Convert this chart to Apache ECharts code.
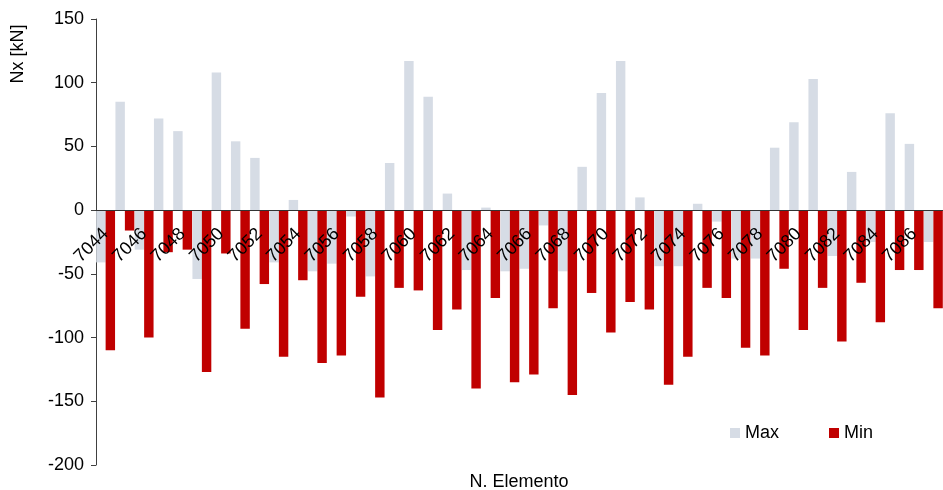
<!DOCTYPE html>
<html>
<head>
<meta charset="utf-8">
<script src="https://cdn.jsdelivr.net/npm/echarts@6/dist/echarts.min.js"></script>
<style>
html,body{margin:0;padding:0;background:#fff;}
#chart{width:943px;height:490px;}
</style>
</head>
<body>
<div id="chart"></div>
<script>
var categories = [];
for (var c = 7044; c <= 7087; c++) categories.push(String(c));

var maxValues = [-41, 85, -31, 72, 62, -54, 108, 54, 41, -41,
                 8, -48, -42, -5, -52, 37, 117, 89, 13, -47,
                 2, -48, -46, -12, -48, 34, 92, 117, 10, -44,
                 -44, 5, -9, -38, -38, 49, 69, 103, -36, 30,
                 -25, 76, 52, -25];

var minValues = [-110, -16, -100, -33, -31, -127, -34, -93, -58, -115,
                 -55, -120, -114, -68, -147, -61, -63, -94, -78, -140,
                 -69, -135, -129, -77, -145, -65, -96, -72, -78, -137,
                 -115, -61, -69, -108, -114, -46, -94, -61, -103, -57,
                 -88, -47, -47, -77];

var yTicks = { min: -200, max: 150, interval: 50 };

var FONT = 'Arial, "Liberation Sans", sans-serif';
var chart = echarts.init(document.getElementById('chart'), null, { renderer: 'canvas' });

var gridTop = 19, gridBottom = 25, H = 490;
var plotH = H - gridTop - gridBottom;
var zeroOffset = plotH * (0 - yTicks.min) / (yTicks.max - yTicks.min);

chart.setOption({
  animation: false,
  backgroundColor: '#ffffff',
  grid: { left: 96, right: 0, top: gridTop, bottom: gridBottom, containLabel: false },
  legend: {
    data: ['Max', 'Min'],
    left: 725, top: 419,
    icon: 'rect', itemWidth: 10, itemHeight: 10, itemGap: 50,
    textStyle: { fontSize: 18, fontFamily: FONT, color: '#000' }
  },
  xAxis: {
    type: 'category',
    data: categories,
    z: 10,
    offset: -zeroOffset,
    axisLine: { show: true, onZero: false, lineStyle: { color: '#333', width: 1 } },
    axisTick: { show: false },
    axisLabel: { interval: 1, rotate: 45, margin: 21, fontSize: 18, fontFamily: FONT, color: '#000' },
    splitLine: { show: false }
  },
  yAxis: {
    type: 'value',
    min: yTicks.min, max: yTicks.max, interval: yTicks.interval,
    axisLine: { show: true, lineStyle: { color: '#404040', width: 1 } },
    axisTick: { show: true, length: 5, lineStyle: { color: '#404040' } },
    axisLabel: { fontSize: 18, fontFamily: FONT, color: '#000', margin: 12 },
    splitLine: { show: false }
  },
  graphic: [
    { type: 'text', x: 18, y: 54, rotation: Math.PI / 2,
      style: { text: 'Nx [kN]', fontSize: 18, fontFamily: FONT, fill: '#000', align: 'center', verticalAlign: 'middle' } },
    { type: 'text', x: 519, y: 482,
      style: { text: 'N. Elemento', fontSize: 18, fontFamily: FONT, fill: '#000', align: 'center', verticalAlign: 'middle' } }
  ],
  series: [
    { name: 'Max', type: 'bar', data: maxValues, barGap: '0%', barCategoryGap: '2%',
      itemStyle: { color: '#D6DCE5' } },
    { name: 'Min', type: 'bar', data: minValues, barGap: '0%', barCategoryGap: '2%',
      itemStyle: { color: '#C00000' } }
  ]
});
</script>
</body>
</html>
